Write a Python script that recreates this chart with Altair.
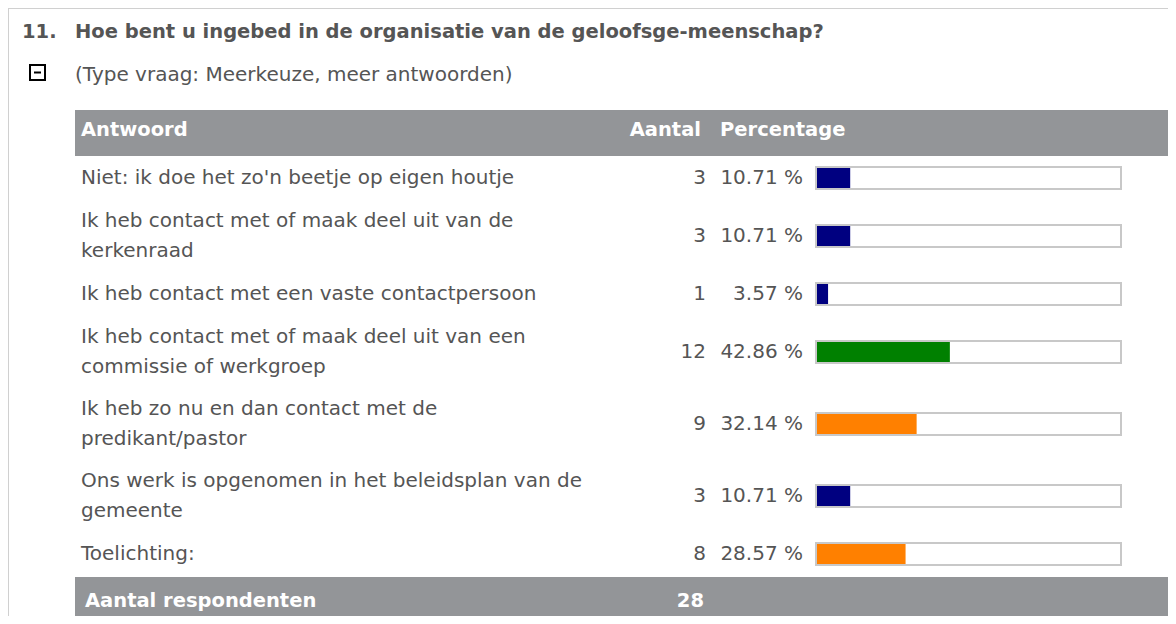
import altair as alt
import pandas as pd

# ---- data ----
question_no = "11."
question = "Hoe bent u ingebed in de organisatie van de geloofsge-meenschap?"
question_type = "(Type vraag: Meerkeuze, meer antwoorden)"
col_answer = "Antwoord"
col_count = "Aantal"
col_pct = "Percentage"
footer_label = "Aantal respondenten"
respondents = 28

labels = [
    "Niet: ik doe het zo'n beetje op eigen houtje",
    "Ik heb contact met of maak deel uit van de\nkerkenraad",
    "Ik heb contact met een vaste contactpersoon",
    "Ik heb contact met of maak deel uit van een\ncommissie of werkgroep",
    "Ik heb zo nu en dan contact met de\npredikant/pastor",
    "Ons werk is opgenomen in het beleidsplan van de\ngemeente",
    "Toelichting:",
]
counts = [3, 3, 1, 12, 9, 3, 8]
percents = [10.71, 10.71, 3.57, 42.86, 32.14, 10.71, 28.57]
bar_colors = ["#000080", "#000080", "#000080", "#008000", "#ff8000", "#000080", "#ff8000"]

# ---- layout (pixels, chart coordinates) ----
W, H = 1160, 608
TXT = "#555555"
HDR = "#939598"
FONT = "DejaVu Sans"
FS = 20
FSB = 19.5
LH = 30.5
ROW_TOP = 148

rows = pd.DataFrame({"label": labels, "count": counts, "pct": percents, "color": bar_colors})
rows["lines"] = rows["label"].str.count("\n") + 1
rows["h"] = 16 + 28 * rows["lines"]
rows["mid"] = ROW_TOP + rows["h"].cumsum() - rows["h"] / 2
rows["label_y"] = rows["mid"] - (rows["lines"] - 1) * LH / 2
rows["pct_txt"] = rows["pct"].map(lambda v: f"{v:.2f} %")
rows["zero"] = 0.0

yscale = alt.Scale(domain=[0, H], range=[0, H])
xbar = alt.Scale(domain=[0, 100], range=[809, 1119])

one = pd.DataFrame({"k": [0]})

def txt(text, x, y, size=FS, bold=False, color=TXT, align="left"):
    return alt.Chart(one).mark_text(
        text=text, font=FONT, fontSize=size, fontWeight="bold" if bold else "normal",
        color=color, align=align, baseline="middle"
    ).encode(x=alt.value(x), y=alt.value(y))

def rect(x, x2, y, y2, fill, stroke=None, sw=0):
    kw = dict(fill=fill)
    if stroke:
        kw.update(stroke=stroke, strokeWidth=sw)
    return alt.Chart(one).mark_rect(**kw).encode(
        x=alt.value(x), x2=alt.value(x2), y=alt.value(y), y2=alt.value(y2))

frame_l = alt.Chart(one).mark_rule(color="#d0d0d0", strokeWidth=2).encode(
    x=alt.value(0), y=alt.value(0), y2=alt.value(H))
frame_t = alt.Chart(one).mark_rule(color="#d0d0d0", strokeWidth=2).encode(
    x=alt.value(0), x2=alt.value(W), y=alt.value(0))

icon_box = rect(22, 37, 57, 72, "white", "black", 2)
icon_minus = alt.Chart(one).mark_rule(color="black", strokeWidth=2).encode(
    x=alt.value(26), x2=alt.value(33), y=alt.value(64.5))

header = rect(67, W, 102, 148, HDR)
footer = rect(67, W, 569, H, HDR)

base = alt.Chart(rows)

label_txt = base.mark_text(font=FONT, fontSize=FS, color=TXT, align="left", baseline="middle",
                           lineBreak="\n", lineHeight=LH).encode(
    x=alt.value(73), y=alt.Y("label_y:Q", scale=yscale, axis=None), text="label:N")
count_txt = base.mark_text(font=FONT, fontSize=FS, color=TXT, align="right", baseline="middle").encode(
    x=alt.value(698), y=alt.Y("mid:Q", scale=yscale, axis=None), text="count:Q")
pct_txt = base.mark_text(font=FONT, fontSize=FS, color=TXT, align="right", baseline="middle").encode(
    x=alt.value(795), y=alt.Y("mid:Q", scale=yscale, axis=None), text="pct_txt:N")

box = base.transform_calculate(y1="datum.mid - 11", y2="datum.mid + 11").mark_rect(
    fill="white", stroke="#c8c8c8", strokeWidth=2).encode(
    x=alt.value(808), x2=alt.value(1113),
    y=alt.Y("y1:Q", scale=yscale, axis=None), y2="y2:Q")
bars = base.transform_calculate(y1="datum.mid - 10", y2="datum.mid + 10").mark_rect().encode(
    x=alt.X("zero:Q", scale=xbar, axis=None), x2="pct:Q",
    y=alt.Y("y1:Q", scale=yscale, axis=None), y2="y2:Q",
    color=alt.Color("color:N", scale=None))

chart = alt.layer(
    frame_l, frame_t,
    txt(question_no, 14, 24, FSB, True),
    txt(question, 67, 24, FSB, True),
    icon_box, icon_minus,
    txt(question_type, 67, 67, FS),
    header,
    txt(col_answer, 73, 122, FSB, True, "white"),
    txt(col_count, 693, 122, FSB, True, "white", "right"),
    txt(col_pct, 712, 122, FSB, True, "white"),
    label_txt, count_txt, pct_txt, box, bars,
    footer,
    txt(footer_label, 77, 593, FSB, True, "white"),
    txt(str(respondents), 696, 593, FSB, True, "white", "right"),
).resolve_scale(x="independent").properties(
    width=W, height=H, padding=0, autosize=alt.AutoSizeParams(type="none"), background="white"
).configure_view(stroke=None)

chart.save("out.html", embed_options={"renderer": "svg", "actions": False})
